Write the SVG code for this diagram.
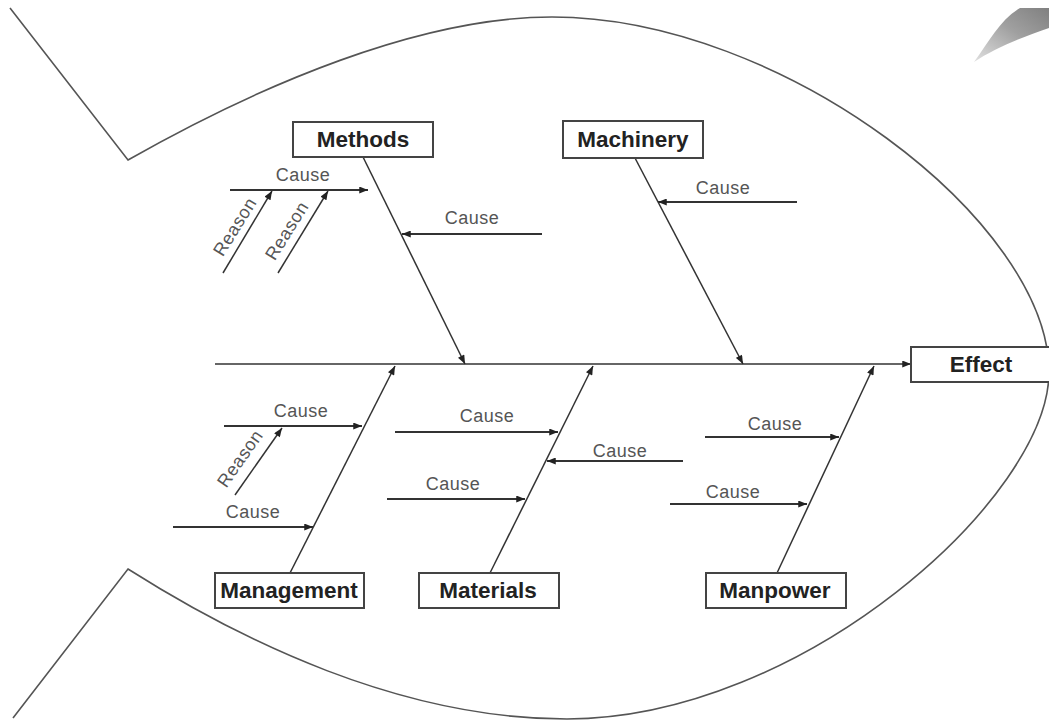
<svg xmlns="http://www.w3.org/2000/svg" width="1049" height="720" viewBox="0 0 1049 720">
  <style>
    .outline { fill: none; stroke: #555; stroke-width: 1.6; }
    .bone { stroke: #333; stroke-width: 1.5; fill: none; }
    .cause { stroke: #333; stroke-width: 1.8; fill: none; }
    .box { fill: #fff; stroke: #444; stroke-width: 2; }
    .title { font-family: "Liberation Sans", Arial, sans-serif; font-weight: bold; font-size: 22.5px; fill: #222; text-anchor: middle; }
    .lbl { font-family: "Liberation Sans", Arial, sans-serif; font-size: 18px; letter-spacing: 0.5px; fill: #555; text-anchor: middle; }
  </style>
  <defs>
    <marker id="arr" viewBox="0 0 10 8" refX="10" refY="4" markerWidth="10" markerHeight="7" markerUnits="userSpaceOnUse" orient="auto">
      <path d="M0,0 L10,4 L0,8 z" fill="#222"/>
    </marker>
    <linearGradient id="blade" x1="0" y1="1" x2="1" y2="0">
      <stop offset="0" stop-color="#e0e0e0"/>
      <stop offset="0.55" stop-color="#a0a0a0"/>
      <stop offset="1" stop-color="#808080"/>
    </linearGradient>
  </defs>
  <rect width="1049" height="720" fill="#fff"/>

  <g id="fish-outline">
    <path class="outline" d="M10,8 L128,160 C260,85 420,17 552,17 C782,17 1049,222 1049,372 C1049,497 802,719 567,719 C400,719 240,640 128,569 L13,718"/>
    <path d="M974,62 C990,40 1000,20 1020,8 L1049,8 L1049,28 C1025,36 995,48 974,62 Z" fill="url(#blade)"/>
  </g>

  <g id="connectors">
    <line class="bone" x1="215" y1="364" x2="911" y2="364" marker-end="url(#arr)"/>
    <line class="bone" x1="363" y1="157" x2="465" y2="364" marker-end="url(#arr)"/>
    <line class="bone" x1="635" y1="158" x2="743" y2="364" marker-end="url(#arr)"/>
    <line class="bone" x1="290" y1="573" x2="395" y2="366" marker-end="url(#arr)"/>
    <line class="bone" x1="490" y1="573" x2="593" y2="366" marker-end="url(#arr)"/>
    <line class="bone" x1="777" y1="573" x2="874" y2="366" marker-end="url(#arr)"/>

    <line class="cause" x1="230" y1="190" x2="368" y2="190" marker-end="url(#arr)"/>
    <line class="cause" x1="542" y1="234" x2="402" y2="234" marker-end="url(#arr)"/>
    <line class="cause" x1="797" y1="202" x2="658" y2="202" marker-end="url(#arr)"/>
    <line class="cause" x1="224" y1="426" x2="362" y2="426" marker-end="url(#arr)"/>
    <line class="cause" x1="173" y1="527" x2="313" y2="527" marker-end="url(#arr)"/>
    <line class="cause" x1="395" y1="432" x2="558" y2="432" marker-end="url(#arr)"/>
    <line class="cause" x1="387" y1="499" x2="525" y2="499" marker-end="url(#arr)"/>
    <line class="cause" x1="683" y1="461" x2="547" y2="461" marker-end="url(#arr)"/>
    <line class="cause" x1="705" y1="437" x2="839" y2="437" marker-end="url(#arr)"/>
    <line class="cause" x1="670" y1="504" x2="807" y2="504" marker-end="url(#arr)"/>

    <line class="bone" x1="223" y1="273" x2="272" y2="191" marker-end="url(#arr)"/>
    <line class="bone" x1="278" y1="273" x2="328" y2="191" marker-end="url(#arr)"/>
    <line class="bone" x1="235" y1="495" x2="282" y2="428" marker-end="url(#arr)"/>
  </g>

  <g id="labels">
    <text class="lbl" x="303" y="181">Cause</text>
    <text class="lbl" x="472" y="224">Cause</text>
    <text class="lbl" x="723" y="194">Cause</text>
    <text class="lbl" x="301" y="417">Cause</text>
    <text class="lbl" x="253" y="518">Cause</text>
    <text class="lbl" x="487" y="422">Cause</text>
    <text class="lbl" x="453" y="490">Cause</text>
    <text class="lbl" x="620" y="457">Cause</text>
    <text class="lbl" x="775" y="430">Cause</text>
    <text class="lbl" x="733" y="498">Cause</text>
    <text class="lbl" transform="translate(240,230) rotate(-58)">Reason</text>
    <text class="lbl" transform="translate(292,234) rotate(-58)">Reason</text>
    <text class="lbl" transform="translate(245,462) rotate(-55)">Reason</text>
  </g>

  <g id="methods">
    <rect class="box" x="293" y="122" width="140" height="35"/>
    <text class="title" x="363" y="147">Methods</text>
  </g>
  <g id="machinery">
    <rect class="box" x="563" y="121" width="140" height="37"/>
    <text class="title" x="633" y="147">Machinery</text>
  </g>
  <g id="effect">
    <rect class="box" x="911" y="347" width="146" height="35"/>
    <text class="title" x="981" y="372">Effect</text>
  </g>
  <g id="management">
    <rect class="box" x="215" y="573" width="149" height="35"/>
    <text class="title" x="289" y="598">Management</text>
  </g>
  <g id="materials">
    <rect class="box" x="419" y="573" width="140" height="35"/>
    <text class="title" x="488" y="598">Materials</text>
  </g>
  <g id="manpower">
    <rect class="box" x="706" y="573" width="140" height="35"/>
    <text class="title" x="775" y="598">Manpower</text>
  </g>
</svg>
